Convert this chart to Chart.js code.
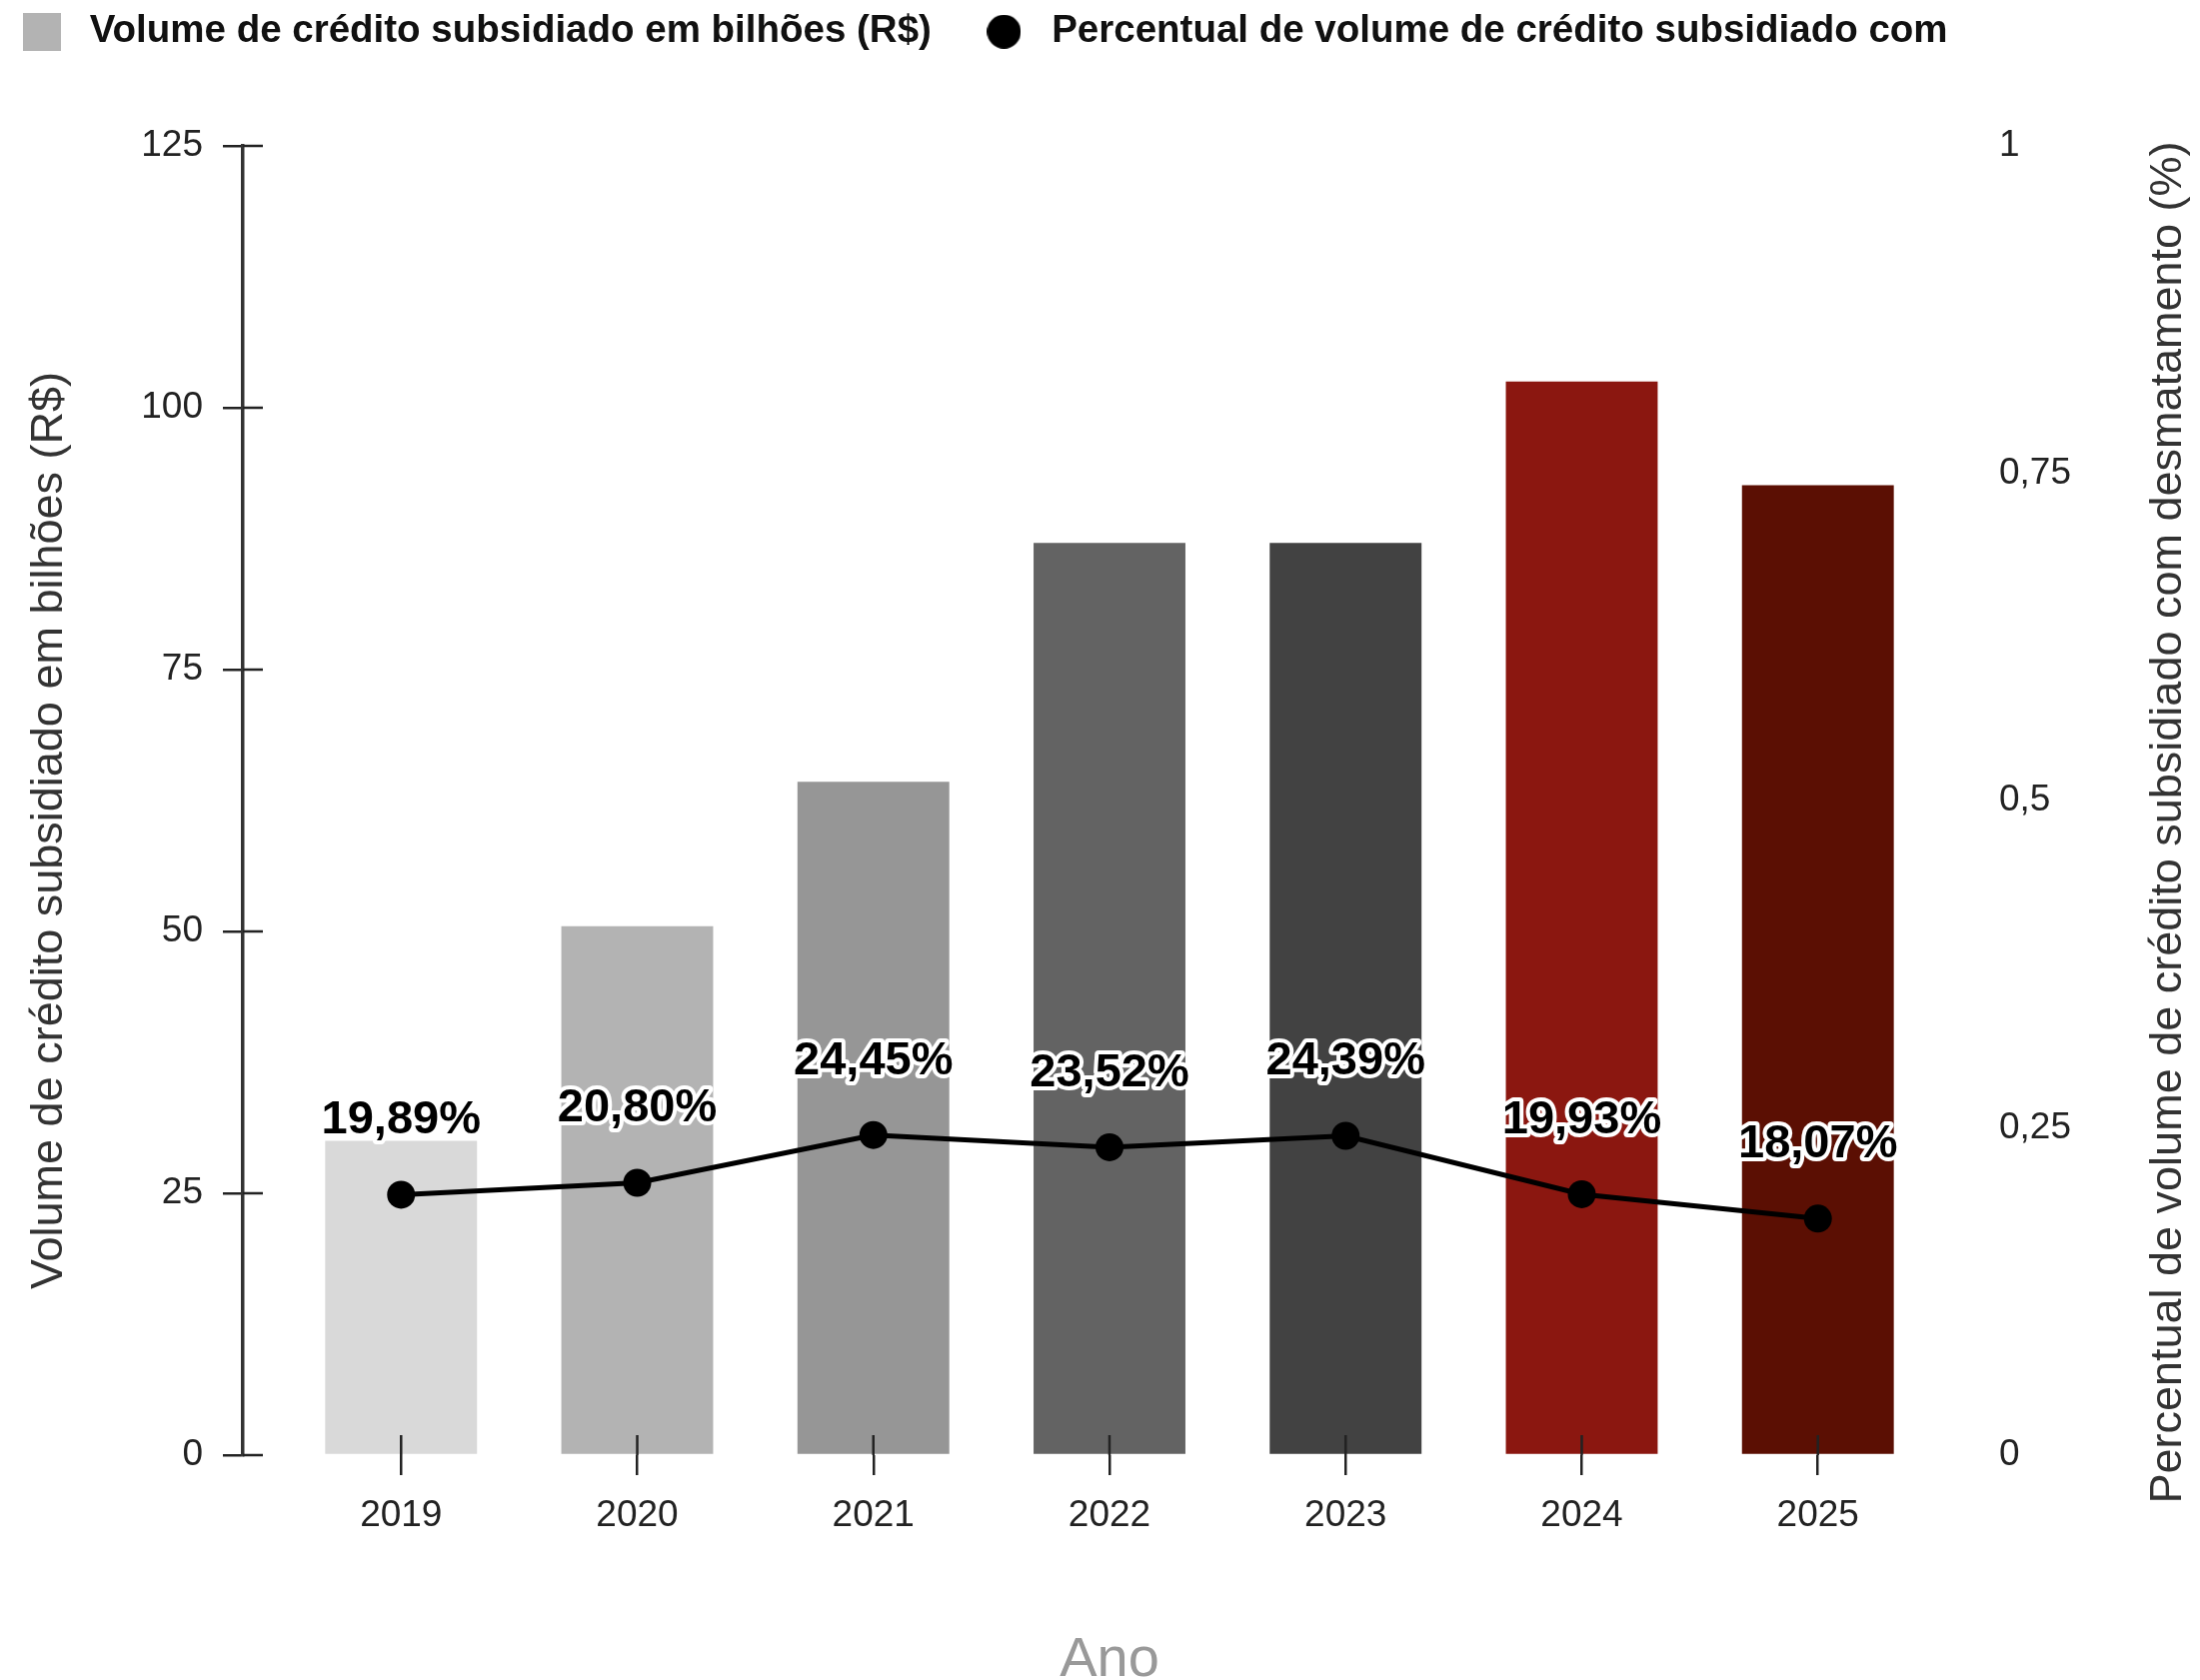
<!DOCTYPE html>
<html>
<head>
<meta charset="utf-8">
<script src="https://cdn.jsdelivr.net/npm/chart.js@4"></script>
<style>
  html, body { margin: 0; padding: 0; background: #fff; }
  canvas { display: block; }
</style>
</head>
<body>
<canvas id="myChart" width="2201" height="1681"></canvas>
<script>
const years = ['2019', '2020', '2021', '2022', '2023', '2024', '2025']
const volume = [30.0, 50.5, 64.3, 87.1, 87.1, 102.5, 92.6]
const share = [0.1989, 0.2080, 0.2445, 0.2352, 0.2439, 0.1993, 0.1807]
const leftTicks = [0, 25, 50, 75, 100, 125]
const rightTicks = [0, 0.25, 0.5, 0.75, 1]
const barColors = ['#d9d9d9', '#b3b3b3', '#969696', '#636363', '#424242', '#8b1710', '#5b0f03']

const volumeLabel = 'Volume de crédito subsidiado em bilhões (R$)'
const shareLabel = 'Percentual de volume de crédito subsidiado com'
const shareTitle = 'Percentual de volume de crédito subsidiado com desmatamento (%)'

Chart.defaults.font.family = '"Liberation Sans", Arial, sans-serif'
Chart.defaults.color = '#222'

// little canvases used as legend markers
function swatch(shape, color, size) {
    const c = document.createElement('canvas')
    c.width = size
    c.height = size
    const g = c.getContext('2d')
    g.fillStyle = color
    if (shape === 'circle') {
        g.beginPath()
        g.arc(size / 2, size / 2, size / 2, 0, Math.PI * 2)
        g.fill()
    } else {
        g.fillRect(0, 0, size, size)
    }
    return c
}
const markers = [swatch('rect', '#b3b3b3', 38), swatch('circle', '#000', 34)]

const fmtPct = v => (v * 100).toFixed(2).replace('.', ',') + '%'

// vertical axis title, always reading bottom to top
function sideTitle(ctx, text, x, y) {
    ctx.save()
    ctx.translate(x, y)
    ctx.rotate(-Math.PI / 2)
    ctx.font = '45px "Liberation Sans", Arial, sans-serif'
    ctx.fillStyle = '#333'
    ctx.textAlign = 'center'
    ctx.textBaseline = 'middle'
    ctx.fillText(text, 0, 0)
    ctx.restore()
}

const extras = {
    id: 'extras',
    beforeLayout(chart) {
        const lg = chart.legend
        if (lg && !lg._fixed) {
            const fit = lg.fit
            lg.fit = function () {
                fit.call(this)
                this.height = 177.5
            }
            lg._fixed = true
        }
    },
    afterDatasetsDraw(chart) {
        const { ctx, chartArea, scales } = chart
        ctx.save()
        // tick marks also reach inside the plot
        ctx.strokeStyle = '#222'
        ctx.lineWidth = 2.5
        ctx.beginPath()
        scales.x.ticks.forEach(t => {
            const px = scales.x.getPixelForValue(t.value)
            ctx.moveTo(px, chartArea.bottom)
            ctx.lineTo(px, chartArea.bottom - 20)
        })
        scales.y.ticks.forEach(t => {
            const py = scales.y.getPixelForValue(t.value)
            ctx.moveTo(chartArea.left, py)
            ctx.lineTo(chartArea.left + 20, py)
        })
        ctx.stroke()

        // value labels over the line
        const meta = chart.getDatasetMeta(1)
        ctx.font = 'bold 47px "Liberation Sans", Arial, sans-serif'
        ctx.textAlign = 'center'
        ctx.textBaseline = 'middle'
        ctx.lineJoin = 'round'
        ctx.lineWidth = 8
        ctx.strokeStyle = '#fff'
        ctx.fillStyle = '#000'
        meta.data.forEach((pt, i) => {
            const txt = fmtPct(share[i])
            ctx.strokeText(txt, pt.x, pt.y - 74)
            ctx.fillText(txt, pt.x, pt.y - 74)
        })
        ctx.restore()

        const midY = (chartArea.top + chartArea.bottom) / 2
        sideTitle(ctx, volumeLabel, scales.y.left + 80, midY + 30)
        sideTitle(ctx, shareTitle, scales.y1.right - 31, midY + 22)
    }
}

const context = document.getElementById('myChart').getContext('2d')
const myChart = new Chart(context, {
    data: {
        datasets: [
            {
                type: 'bar',
                label: volumeLabel,
                data: volume.map((v, i) => ({ x: i, y: v })),
                backgroundColor: barColors,
                borderWidth: 0,
                barPercentage: 0.643,
                categoryPercentage: 1,
                yAxisID: 'y',
                order: 1
            },
            {
                type: 'line',
                label: shareLabel,
                data: share.map((v, i) => ({ x: i, y: v })),
                borderColor: '#000',
                borderWidth: 5,
                pointRadius: 14,
                pointBackgroundColor: '#000',
                pointBorderWidth: 0,
                yAxisID: 'y1',
                order: 0
            }
        ]
    },
    options: {
        responsive: false,
        animation: false,
        devicePixelRatio: 1,
        layout: {
            padding: { top: -31.5, left: -30.5, right: 0, bottom: 0 }
        },
        plugins: {
            tooltip: { enabled: false },
            legend: {
                position: 'top',
                align: 'start',
                labels: {
                    usePointStyle: true,
                    pointStyleWidth: 57,
                    boxHeight: 24,
                    padding: 44,
                    color: '#111',
                    font: { size: 38.5, weight: 'bold' },
                    sort: (a, b) => a.datasetIndex - b.datasetIndex,
                    generateLabels(chart) {
                        const items = Chart.defaults.plugins.legend.labels.generateLabels(chart)
                        items.forEach(it => { it.pointStyle = markers[it.datasetIndex] })
                        return items
                    }
                }
            }
        },
        scales: {
            x: {
                type: 'linear',
                min: -0.67,
                max: 6.67,
                offset: false,
                afterBuildTicks: s => { s.ticks = years.map((y, i) => ({ value: i })) },
                afterFit: s => { s.height = 225 },
                ticks: {
                    callback: v => years[v],
                    font: { size: 37 },
                    color: '#222',
                    padding: 19,
                    maxRotation: 0
                },
                grid: { offset: false, drawOnChartArea: false, tickLength: 20, color: '#222', lineWidth: 2.5 },
                border: { display: false },
                title: {
                    display: true,
                    text: 'Ano',
                    color: '#999',
                    font: { size: 56, lineHeight: 0.7 },
                    padding: { top: 0, bottom: 0 }
                }
            },
            y: {
                position: 'left',
                min: 0,
                max: 125,
                afterBuildTicks: s => { s.ticks = leftTicks.map(v => ({ value: v })) },
                afterFit: s => { s.width = 273.5 },
                ticks: { font: { size: 37 }, color: '#222', padding: 20 },
                grid: { drawOnChartArea: false, tickLength: 20, color: '#222', lineWidth: 2.5 },
                border: { display: true, color: '#333', width: 3.5 }
            },
            y1: {
                position: 'right',
                min: 0,
                max: 1,
                afterBuildTicks: s => { s.ticks = rightTicks.map(v => ({ value: v })) },
                afterFit: s => { s.width = 224 },
                ticks: {
                    font: { size: 37 },
                    color: '#222',
                    padding: 23,
                    callback: v => String(v).replace('.', ',')
                },
                grid: { display: false, drawTicks: false },
                border: { display: false }
            }
        }
    },
    plugins: [extras]
})
</script>
</body>
</html>
